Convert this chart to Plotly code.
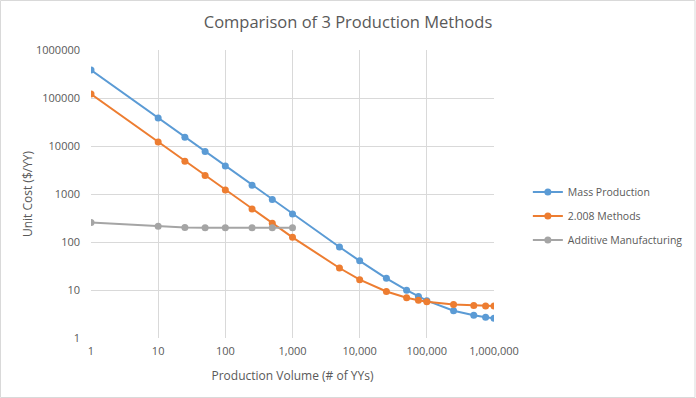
import plotly.graph_objects as go

volumes = [1, 10, 25, 50, 100, 250, 500, 1000, 5000, 10000, 25000, 50000,
           75000, 100000, 250000, 500000, 750000, 1000000]
mass_cost = [383000, 38300, 15300, 7660, 3830, 1530, 768, 385, 78.8, 40.5,
             17.5, 9.9, 7.3, 6.0, 3.7, 2.97, 2.71, 2.58]
methods_cost = [121000, 12100, 4840, 2420, 1210, 488, 246, 125, 28.7, 16.4,
                9.3, 6.9, 6.1, 5.7, 4.98, 4.74, 4.66, 4.62]
additive_volumes = [1, 10, 25, 50, 100, 250, 500, 1000]
additive_cost = [255, 212, 200, 199, 197, 197, 197, 197]

x_tickvals = [1, 10, 100, 1000, 10000, 100000, 1000000]
x_ticktext = ["1", "10", "100", "1,000", "10,000", "100,000", "1,000,000"]
y_tickvals = [1, 10, 100, 1000, 10000, 100000, 1000000]
y_ticktext = ["1", "10", "100", "1000", "10000", "100000", "1000000"]

FONT = "Open Sans, Liberation Sans, sans-serif"
TXT = "#595959"

fig = go.Figure()
series = [
    ("Mass Production", volumes, mass_cost, "#5B9BD5"),
    ("2.008 Methods", volumes, methods_cost, "#ED7D31"),
    ("Additive Manufacturing", additive_volumes, additive_cost, "#A5A5A5"),
]
for i, (name, xs, ys, col) in enumerate(series):
    fig.add_trace(go.Scatter(
        x=xs, y=ys, name=name, mode="lines+markers", legendgroup=f"g{i}",
        line=dict(color=col, width=2),
        marker=dict(color=col, size=7),
    ))

fig.update_layout(
    width=696, height=398,
    paper_bgcolor="white", plot_bgcolor="white",
    margin=dict(l=91, r=202, t=50, b=60, autoexpand=False),
    font=dict(family=FONT, color=TXT, size=11),
    title=dict(text="Comparison of 3 Production Methods", x=0.5, xref="container",
               y=1 - 22/398, yref="container", xanchor="center", yanchor="middle",
               font=dict(size=16.5, color=TXT, family=FONT)),
    legend=dict(x=1.084, y=0.424, xanchor="left", yanchor="middle",
                font=dict(size=10.5, color=TXT), itemwidth=30,
                tracegroupgap=5, bgcolor="rgba(0,0,0,0)"),
    shapes=[dict(type="rect", xref="paper", yref="paper",
                 x0=-90.5/403, x1=1 + 201/403, y0=-59.5/288, y1=1 + 49.5/288,
                 line=dict(color="#D9D9D9", width=1))],
)
fig.update_xaxes(type="log", range=[0, 6], tickvals=x_tickvals, ticktext=x_ticktext,
                 showgrid=True, gridcolor="#D9D9D9", gridwidth=1,
                 zeroline=False, showline=False, ticks="",
                 tickfont=dict(size=11, color=TXT), ticklabelstandoff=5,
                 title=dict(text="Production Volume (# of YYs)",
                            font=dict(size=12, color=TXT), standoff=14))
fig.update_yaxes(type="log", range=[0, 6], tickvals=y_tickvals, ticktext=y_ticktext,
                 showgrid=True, gridcolor="#D9D9D9", gridwidth=1,
                 zeroline=False, showline=False, ticks="",
                 tickfont=dict(size=11, color=TXT), ticklabelstandoff=10,
                 title=dict(text="Unit Cost ($/YY)",
                            font=dict(size=12, color=TXT), standoff=0))

fig.write_html("out.html", config={"displayModeBar": False},
               post_script="document.body.style.margin='0';document.body.style.overflow='hidden';")
